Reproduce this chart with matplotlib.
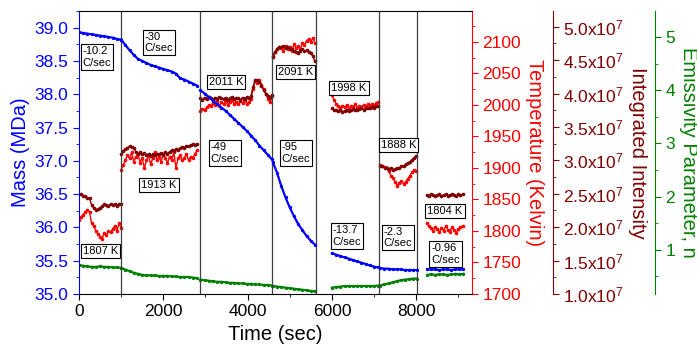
import matplotlib
matplotlib.use('Agg')
import matplotlib.pyplot as plt
import numpy as np
from matplotlib.ticker import MultipleLocator, FuncFormatter

plt.rcParams['font.family'] = 'Liberation Sans'
plt.rcParams['mathtext.fontset'] = 'custom'
plt.rcParams['mathtext.rm'] = 'Liberation Sans'
plt.rcParams['mathtext.default'] = 'regular'

# time windows (sec) of each heating step
smooth_windows = [(0, 1000), (1000, 2800), (2880, 4580), (4600, 5600),
                  (6000, 7100), (7150, 8020), (8260, 9120)]
noisy_windows = [(0, 1000), (1000, 2800), (2880, 4580), (4600, 5600),
                 (6000, 7100), (7150, 8000), (8250, 9100)]
step_edges = [1000, 2860, 4590, 5625, 7125, 8030]

# mass (MDa)
mass = [
    [38.93, 38.92, 38.91, 38.90, 38.89, 38.88, 38.87, 38.86, 38.85, 38.83, 38.82],
    [38.82, 38.74, 38.66, 38.59, 38.53, 38.50, 38.47, 38.44, 38.42, 38.40,
     38.38, 38.36, 38.34, 38.31, 38.24, 38.22, 38.19, 38.16, 38.13],
    [38.06, 38.01, 37.96, 37.90, 37.85, 37.80, 37.75, 37.69, 37.63, 37.57,
     37.51, 37.45, 37.38, 37.31, 37.23, 37.16, 37.09, 37.02],
    [36.98, 36.82, 36.62, 36.45, 36.30, 36.17, 36.05, 35.96, 35.87, 35.80, 35.74],
    [35.61, 35.59, 35.57, 35.55, 35.53, 35.51, 35.49, 35.47, 35.45, 35.43, 35.41, 35.40],
    [35.39, 35.38, 35.38, 35.37, 35.37, 35.37, 35.36, 35.36, 35.36, 35.36],
    [35.37, 35.37, 35.37, 35.36, 35.37, 35.37, 35.36, 35.37, 35.37, 35.37],
]

# emissivity parameter n
emissivity = [
    [0.72, 0.70, 0.69, 0.68, 0.68, 0.69, 0.68, 0.68, 0.67, 0.67, 0.66],
    [0.66, 0.63, 0.60, 0.57, 0.55, 0.53, 0.52, 0.52, 0.52, 0.51,
     0.51, 0.51, 0.50, 0.50, 0.49, 0.49, 0.49, 0.48, 0.47],
    [0.44, 0.43, 0.42, 0.41, 0.40, 0.40, 0.39, 0.38, 0.38, 0.37,
     0.37, 0.36, 0.36, 0.35, 0.35, 0.34, 0.34, 0.33],
    [0.32, 0.31, 0.30, 0.29, 0.28, 0.27, 0.26, 0.25, 0.24, 0.23, 0.22],
    [0.29, 0.30, 0.31, 0.32, 0.32, 0.32, 0.32, 0.32, 0.32, 0.32, 0.32, 0.33],
    [0.33, 0.35, 0.37, 0.39, 0.41, 0.43, 0.44, 0.45, 0.46, 0.46],
    [0.53, 0.54, 0.53, 0.54, 0.54, 0.53, 0.54, 0.55, 0.54, 0.55],
]

# temperature (K)
temperature = [
    [1818, 1822, 1826, 1830, 1833, 1830, 1812, 1808, 1800, 1795, 1790,
     1788, 1797, 1793, 1800, 1798, 1803, 1808, 1800, 1812, 1805],
    [1897, 1905, 1912, 1920, 1915, 1925, 1910, 1918, 1922, 1908, 1916,
     1900, 1912, 1920, 1906, 1915, 1925, 1912, 1918, 1910, 1922, 1915,
     1908, 1918, 1912, 1925, 1900, 1915, 1920, 1912, 1916, 1922, 1912,
     1918, 1915, 1922, 1928],
    [1990, 1994, 1992, 1996, 2000, 1998, 2003, 2000, 2006, 1999, 2004,
     2001, 2007, 2000, 2004, 2008, 2002, 2005, 2001, 2006, 2003, 2008,
     2002, 2004, 2010, 2026, 2038, 2035, 2040, 2032, 2025, 2018, 2010,
     2004, 2014],
    [2078, 2084, 2088, 2092, 2090, 2086, 2094, 2089, 2092, 2085, 2096,
     2090, 2094, 2088, 2098, 2095, 2102, 2105, 2100, 2106, 2098],
    [2015, 2008, 2002, 1998, 1995, 1999, 1996, 2000, 1994, 1998, 1996,
     2001, 1995, 1999, 1997, 2000, 1996, 2001, 1998, 2002, 1999, 2003, 2005],
    [1905, 1903, 1902, 1900, 1895, 1888, 1884, 1878, 1872, 1876, 1880,
     1874, 1878, 1883, 1888, 1893, 1897, 1895],
    [1812, 1808, 1805, 1800, 1806, 1803, 1798, 1805, 1800, 1808, 1802,
     1799, 1806, 1801, 1797, 1803, 1806, 1808],
]

# integrated intensity (x1e7)
intensity = [
    [2.50, 2.49, 2.47, 2.46, 2.44, 2.43, 2.33, 2.28, 2.26, 2.27, 2.29,
     2.31, 2.34, 2.33, 2.32, 2.35, 2.33, 2.34, 2.32, 2.35, 2.34],
    [3.10, 3.14, 3.17, 3.19, 3.21, 3.20, 3.18, 3.13, 3.10, 3.12, 3.09,
     3.11, 3.08, 3.10, 3.07, 3.09, 3.08, 3.10, 3.09, 3.11, 3.08, 3.12,
     3.10, 3.13, 3.15, 3.14, 3.17, 3.16, 3.18, 3.20, 3.19, 3.22, 3.21,
     3.23, 3.24, 3.23, 3.25],
    [3.93, 3.91, 3.94, 3.92, 3.95, 3.93, 3.91, 3.94, 3.92, 3.95, 3.93,
     3.92, 3.94, 3.91, 3.93, 3.95, 3.92, 3.94, 3.93, 3.91, 3.94, 3.92,
     3.95, 3.93, 3.96, 4.10, 4.21, 4.20, 4.18, 4.12, 4.05, 4.00, 3.97,
     3.94, 3.98],
    [4.55, 4.62, 4.67, 4.70, 4.69, 4.71, 4.68, 4.70, 4.67, 4.66, 4.64,
     4.62, 4.61, 4.64, 4.66, 4.63, 4.65, 4.62, 4.60, 4.56, 4.48],
    [3.78, 3.76, 3.75, 3.74, 3.75, 3.73, 3.74, 3.76, 3.74, 3.75, 3.77,
     3.76, 3.75, 3.77, 3.78, 3.76, 3.78, 3.79, 3.78, 3.80, 3.79, 3.81, 3.82],
    [2.92, 2.91, 2.89, 2.88, 2.87, 2.88, 2.86, 2.87, 2.88, 2.89, 2.91,
     2.92, 2.94, 2.96, 2.98, 3.01, 3.04, 3.07],
    [2.48, 2.47, 2.49, 2.48, 2.46, 2.48, 2.49, 2.47, 2.48, 2.49, 2.47,
     2.48, 2.49, 2.48, 2.47, 2.49, 2.48, 2.49],
]

# step annotations: text, time, mass-axis height
notes = [
    ('-10.2\nC/sec', 427, 38.56), ('-30\nC/sec', 1898, 38.78),
    ('2011 K', 3488, 38.18), ('2091 K', 5136, 38.34),
    ('1998 K', 6406, 38.09), ('1888 K', 7585, 37.24),
    ('-49\nC/sec', 3464, 37.12), ('-95\nC/sec', 5150, 37.12),
    ('1913 K', 1898, 36.63), ('1807 K', 510, 35.64),
    ('-13.7\nC/sec', 6360, 35.87), ('-2.3\nC/sec', 7570, 35.85),
    ('1804 K', 8683, 36.24), ('-0.96\nC/sec', 8700, 35.60),
]

blue = '#0000ff'
red = '#ff0000'
dred = '#800000'
green = '#008000'
tick_fs = 12.5
label_fs = 14.5

fig = plt.figure(figsize=(6.97, 3.54), dpi=100)
ax = fig.add_axes([0.1133, 0.1695, 0.5639, 0.7994])
ax_n = ax.twinx()
ax_T = ax.twinx()
ax_I = ax.twinx()
ax_I.spines['right'].set_position(('axes', 1.206))
ax_n.spines['right'].set_position(('axes', 1.466))

# draw order: emissivity, temperature, intensity, then mass on top
ax_n.set_zorder(1)
ax_T.set_zorder(2)
ax_I.set_zorder(3)
ax.set_zorder(4)
ax.patch.set_visible(False)

for (t0, t1), m, n in zip(smooth_windows, mass, emissivity):
    t = np.linspace(t0, t1, len(m))
    ax.plot(t, m, '-o', color=blue, lw=1.6, ms=2.4, mew=0)
    ax_n.plot(t, n, '-o', color=green, lw=1.6, ms=2.4, mew=0)

for (t0, t1), T, I in zip(noisy_windows, temperature, intensity):
    t = np.linspace(t0, t1, len(T))
    ax_T.plot(t, T, '-o', color=red, lw=1.0, ms=2.6, mew=0)
    ax_I.plot(t, np.array(I) * 1e7, '-o', color=dred, lw=1.0, ms=2.6, mew=0)

for x in step_edges:
    ax.axvline(x, color='0.25', lw=0.9, zorder=1)

for txt, x, y in notes:
    ax.text(x, y, txt, ha='center', va='center', multialignment='left',
            fontsize=8, zorder=5,
            bbox=dict(boxstyle='square,pad=0.18', fc='white', ec='black', lw=0.8))

ax.set_xlim(0, 9324)
ax.set_ylim(35.0, 39.25)
ax_T.set_ylim(1700, 2149)
ax_I.set_ylim(1.0e7, 5.235e7)
ax_n.set_ylim(0.171, 5.49)

ax.xaxis.set_major_locator(MultipleLocator(2000))
ax.xaxis.set_minor_locator(MultipleLocator(1000))
ax.yaxis.set_major_locator(MultipleLocator(0.5))
ax.yaxis.set_minor_locator(MultipleLocator(0.25))
ax.yaxis.set_major_formatter(FuncFormatter(lambda v, p: f'{v:.1f}'))
ax_T.yaxis.set_major_locator(MultipleLocator(50))
ax_T.yaxis.set_minor_locator(MultipleLocator(25))
ax_I.yaxis.set_major_locator(MultipleLocator(0.5e7))
ax_I.yaxis.set_minor_locator(MultipleLocator(0.25e7))
ax_I.yaxis.set_major_formatter(FuncFormatter(lambda v, p: f'{v / 1e7:.1f}x10$^7$'))
ax_n.yaxis.set_major_locator(MultipleLocator(1))
ax_n.yaxis.set_minor_locator(MultipleLocator(0.5))

# spines
for a in (ax_n, ax_T, ax_I):
    for s in ('left', 'top', 'bottom'):
        a.spines[s].set_visible(False)
ax.spines['right'].set_visible(False)
ax.spines['left'].set_color(blue)
ax_T.spines['right'].set_color(red)
ax_I.spines['right'].set_color(dred)
ax_n.spines['right'].set_color(green)

ax.tick_params(axis='x', which='both', direction='out', labelsize=tick_fs, top=False)
ax.tick_params(axis='x', which='major', length=4)
ax.tick_params(axis='x', which='minor', length=2.5)
for a, c in ((ax, blue), (ax_T, red), (ax_I, dred), (ax_n, green)):
    a.tick_params(axis='y', which='both', direction='out', colors=c, labelsize=tick_fs)
    a.tick_params(axis='y', which='major', length=4)
    a.tick_params(axis='y', which='minor', length=2.5)

ax.set_xlabel('Time (sec)', fontsize=label_fs)
ax.set_ylabel('Mass (MDa)', fontsize=label_fs, color=blue, va='center')
ax.yaxis.set_label_coords(-0.150, 0.5)
ax_T.set_ylabel('Temperature (Kelvin)', fontsize=label_fs, color=red, rotation=-90, va='center')
ax_T.yaxis.set_label_coords(1.160, 0.5)
ax_I.set_ylabel('Integrated Intensity', fontsize=label_fs, color=dred, rotation=-90, va='center')
ax_I.yaxis.set_label_coords(1.420, 0.5)
ax_n.set_ylabel('Emissivity Parameter, n', fontsize=label_fs, color=green, rotation=-90, va='center')
ax_n.yaxis.set_label_coords(1.550, 0.5)

fig.savefig('out.png', dpi=100)
